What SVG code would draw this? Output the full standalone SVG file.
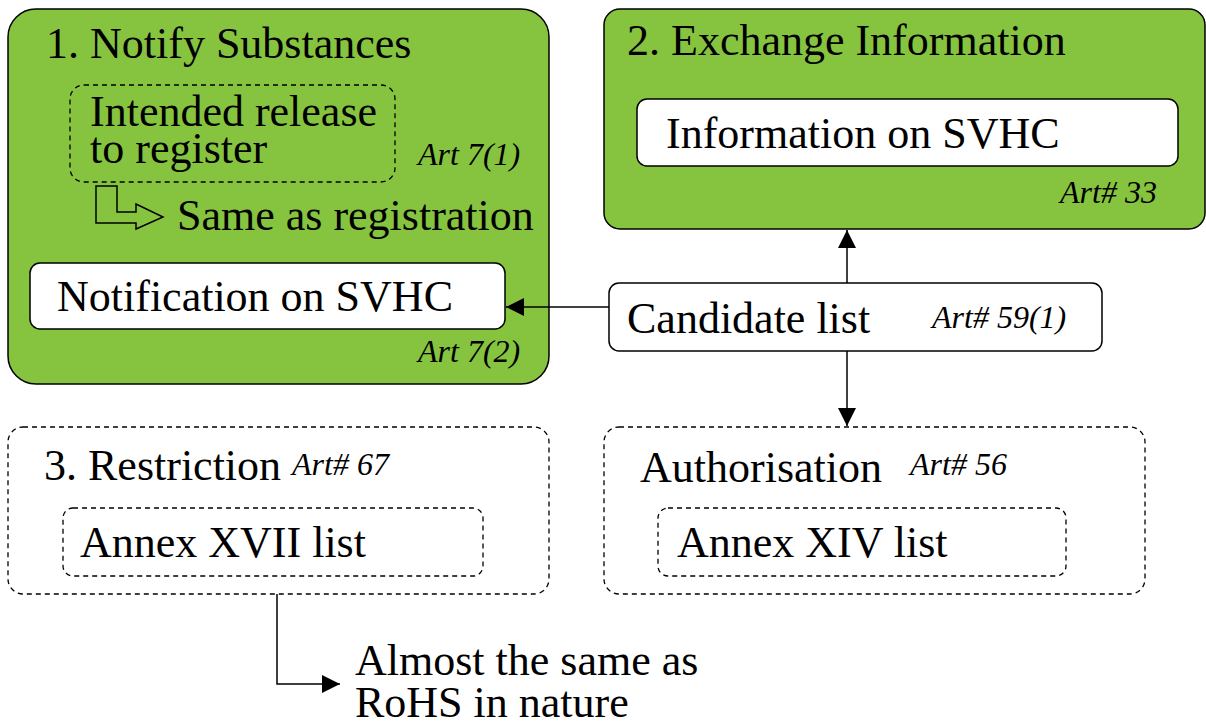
<svg xmlns="http://www.w3.org/2000/svg" width="1206" height="722" viewBox="0 0 1206 722">
<defs>
<style>
.g{fill:#86C440;stroke:#000;stroke-width:1.5}
.w{fill:#fff;stroke:#000;stroke-width:1.5}
.d{fill:none;stroke:#000;stroke-width:1.3;stroke-dasharray:5 4}
.c{fill:none;stroke:#000;stroke-width:1.5}
</style>
<marker id="ah" viewBox="0 0 10 10" refX="10" refY="5" markerWidth="18" markerHeight="18" markerUnits="userSpaceOnUse" orient="auto">
<path d="M0,0 L10,5 L0,10 z" fill="#000"/>
</marker>
</defs>
<rect width="1206" height="722" fill="#fff"/>
<g id="notify">
<rect class="g" x="8" y="9" width="541" height="375" rx="28"/>
<text font-family="Liberation Serif" font-size="44" x="46" y="58">1. Notify Substances</text>
<rect class="d" x="70" y="85" width="325" height="97" rx="14"/>
<text font-family="Liberation Serif" font-size="44" x="90" y="126">Intended release</text>
<text font-family="Liberation Serif" font-size="44" x="90" y="163">to register</text>
<text font-family="Liberation Serif" font-size="32" font-style="italic" x="418" y="165">Art 7(1)</text>
<polygon points="96,186 117,186 117,212 136,212 136,204 163,217 136,229 136,223 96,223" fill="none" stroke="#000" stroke-width="1.5"/>
<text font-family="Liberation Serif" font-size="44" x="177" y="230">Same as registration</text>
</g>
<g id="notification">
<rect class="w" x="30" y="263" width="475" height="66" rx="10"/>
<text font-family="Liberation Serif" font-size="44" x="57" y="311">Notification on SVHC</text>
<text font-family="Liberation Serif" font-size="32" font-style="italic" x="418" y="362">Art 7(2)</text>
</g>
<g id="exchange">
<rect class="g" x="604" y="9" width="601" height="220" rx="16"/>
<text font-family="Liberation Serif" font-size="44" x="627" y="55">2. Exchange Information</text>
<text font-family="Liberation Serif" font-size="32" font-style="italic" x="1060" y="203">Art# 33</text>
</g>
<g id="information">
<rect class="w" x="637" y="99" width="541" height="67" rx="10"/>
<text font-family="Liberation Serif" font-size="44" x="666" y="148">Information on SVHC</text>
</g>
<g id="candidate">
<rect class="w" x="609" y="283" width="493" height="68" rx="10"/>
<text font-family="Liberation Serif" font-size="44" x="627" y="333">Candidate list</text>
<text font-family="Liberation Serif" font-size="32" font-style="italic" x="932" y="328">Art# 59(1)</text>
</g>
<g id="restriction">
<rect class="d" x="8" y="427" width="541" height="167" rx="15"/>
<text font-family="Liberation Serif" font-size="44" x="44" y="480">3. Restriction</text>
<text font-family="Liberation Serif" font-size="32" font-style="italic" x="292" y="475">Art# 67</text>
</g>
<g id="annex17">
<rect class="d" x="63" y="508" width="420" height="68" rx="10"/>
<text font-family="Liberation Serif" font-size="44" x="80" y="557">Annex XVII list</text>
</g>
<g id="authorisation">
<rect class="d" x="604" y="427" width="541" height="167" rx="15"/>
<text font-family="Liberation Serif" font-size="44" x="640" y="482">Authorisation</text>
<text font-family="Liberation Serif" font-size="32" font-style="italic" x="910" y="475">Art# 56</text>
</g>
<g id="annex14">
<rect class="d" x="658" y="508" width="408" height="68" rx="10"/>
<text font-family="Liberation Serif" font-size="44" x="677" y="557">Annex XIV list</text>
</g>
<g id="note">
<text font-family="Liberation Serif" font-size="44" x="355" y="675">Almost the same as</text>
<text font-family="Liberation Serif" font-size="44" x="355" y="717">RoHS in nature</text>
</g>
<g id="connectors">
<line class="c" x1="609" y1="307" x2="506" y2="307" marker-end="url(#ah)"/>
<line class="c" x1="847" y1="283" x2="847" y2="230" marker-end="url(#ah)"/>
<line class="c" x1="847" y1="351" x2="847" y2="426" marker-end="url(#ah)"/>
<polyline class="c" points="277,594 277,684 340,684" marker-end="url(#ah)"/>
</g>
</svg>
